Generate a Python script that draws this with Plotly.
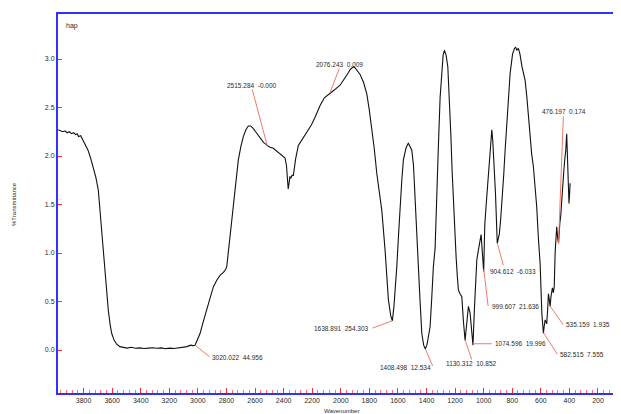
import numpy as np
import plotly.graph_objects as go

# ---- spectrum (10 points per row) ----
wavenumber = [
    3978, 3960, 3945, 3930, 3915, 3900, 3885, 3870, 3855, 3845,
    3835, 3820, 3806, 3786, 3769, 3751, 3732, 3714, 3697, 3685,
    3673, 3661, 3650, 3638, 3627, 3614, 3603, 3586, 3568, 3546,
    3522, 3496, 3466, 3436, 3406, 3376, 3346, 3316, 3286, 3256,
    3226, 3196, 3166, 3136, 3106, 3076, 3050, 3035, 3020, 3005,
    2985, 2961, 2938, 2916, 2892, 2868, 2845, 2821, 2806, 2798,
    2786, 2775, 2763, 2752, 2734, 2717, 2699, 2682, 2664, 2647,
    2631, 2616, 2596, 2565, 2541, 2515, 2496, 2472, 2448, 2425,
    2406, 2390, 2380, 2374, 2368, 2362, 2356, 2350, 2341, 2332,
    2316, 2297, 2266, 2238, 2206, 2180, 2145, 2115, 2076, 2046,
    2005, 1971, 1946, 1935, 1924, 1912, 1901, 1891, 1865, 1841,
    1818, 1801, 1783, 1766, 1748, 1730, 1713, 1690, 1667, 1650,
    1639, 1628, 1617, 1608, 1596, 1585, 1573, 1562, 1544, 1532,
    1527, 1520, 1511, 1503, 1491, 1480, 1468, 1457, 1445, 1433,
    1420, 1408, 1396, 1385, 1375, 1364, 1352, 1340, 1328, 1317,
    1305, 1293, 1284, 1275, 1263, 1251, 1240, 1230, 1221, 1212,
    1202, 1193, 1184, 1177, 1166, 1153, 1142, 1130, 1120, 1112,
    1107, 1095, 1085, 1075, 1064, 1054, 1048, 1037, 1026, 1018,
    1000, 992, 980, 967, 956, 947, 943, 936, 928, 917,
    905, 897, 890, 881, 873, 860, 850, 833, 815, 798,
    784, 776, 768, 757, 746, 733, 721, 710, 698, 687,
    675, 664, 652, 640, 629, 617, 605, 593, 582, 576,
    570, 564, 559, 553, 547, 541, 535, 529, 519, 512,
    506, 500, 489, 482, 476, 467, 461, 453, 447, 439,
    431, 426, 419, 412, 403, 399, 395,
]
transmittance = [
    2.27, 2.26, 2.25, 2.26, 2.24, 2.25, 2.23, 2.24, 2.22, 2.23,
    2.20, 2.21, 2.17, 2.12, 2.06, 1.98, 1.89, 1.78, 1.65, 1.44,
    1.20, 1.00, 0.79, 0.60, 0.41, 0.26, 0.17, 0.10, 0.06, 0.035,
    0.025, 0.02, 0.028, 0.018, 0.022, 0.015, 0.02, 0.024, 0.018, 0.022,
    0.014, 0.02, 0.016, 0.022, 0.025, 0.035, 0.05, 0.045, 0.05, 0.10,
    0.17, 0.30, 0.41, 0.53, 0.65, 0.72, 0.77, 0.80, 0.83, 0.86,
    1.02, 1.20, 1.36, 1.52, 1.78, 1.96, 2.10, 2.20, 2.27, 2.31,
    2.31, 2.29, 2.25, 2.19, 2.14, 2.11, 2.09, 2.08, 2.05, 2.02,
    2.00, 1.98, 1.90, 1.75, 1.66, 1.72, 1.79, 1.77, 1.80, 1.80,
    1.97, 2.11, 2.18, 2.24, 2.32, 2.40, 2.52, 2.60, 2.65, 2.68,
    2.73, 2.80, 2.86, 2.89, 2.91, 2.92, 2.91, 2.89, 2.84, 2.76,
    2.64, 2.48, 2.30, 2.08, 1.82, 1.62, 1.44, 1.03, 0.52, 0.35,
    0.30, 0.45, 0.66, 0.86, 1.18, 1.50, 1.75, 1.96, 2.08, 2.12,
    2.13, 2.11, 2.08, 2.06, 1.90, 1.60, 1.20, 0.86, 0.50, 0.17,
    0.05, 0.01, 0.06, 0.14, 0.24, 0.52, 0.86, 1.05, 1.50, 2.10,
    2.60, 2.92, 3.04, 3.09, 3.04, 2.92, 2.60, 2.23, 1.85, 1.50,
    1.20, 0.96, 0.75, 0.62, 0.58, 0.55, 0.30, 0.10, 0.25, 0.42,
    0.45, 0.38, 0.20, 0.05, 0.45, 0.86, 0.93, 1.03, 1.15, 1.19,
    0.81, 1.30, 1.55, 1.82, 2.10, 2.26, 2.27, 2.15, 1.95, 1.60,
    1.10, 1.15, 1.20, 1.35, 1.50, 1.80, 2.06, 2.45, 2.85, 3.05,
    3.11, 3.12, 3.09, 3.11, 3.05, 2.93, 2.85, 2.78, 2.61, 2.42,
    2.16, 2.02, 1.89, 1.70, 1.48, 1.15, 0.89, 0.38, 0.17, 0.25,
    0.31, 0.29, 0.27, 0.40, 0.58, 0.52, 0.45, 0.55, 0.64, 0.59,
    0.66, 1.00, 1.27, 1.15, 1.10, 1.31, 1.38, 1.55, 1.72, 1.85,
    1.99, 2.05, 2.23, 1.92, 1.51, 1.60, 1.72,
]
assert len(wavenumber) == len(transmittance)

# ---- peak labels ----
peak_wavenumber = [3020.022, 2515.284, 2076.243, 1638.891, 1408.498, 1130.312,
                   1074.596, 999.607, 904.612, 476.197, 535.159, 582.515]
peak_label = ["3020.022  44.956", "2515.284  -0.000", "2076.243  0.009",
              "1638.891  254.303", "1408.498  12.534", "1130.312  10.852",
              "1074.596  19.996", "999.607  21.636", "904.612  -6.033",
              "476.197  0.174", "535.159  1.935", "582.515  7.555"]

x_ticks = list(range(3800, 199, -200))
y_ticks = [0.0, 0.5, 1.0, 1.5, 2.0, 2.5, 3.0]

# ---- label placement: pixel offsets from the peak point (screen y down) ----
# (leader dx, leader dy, text dx, text dy, xanchor)
label_layout = [
    (14.5, 11.5, 15, 12.1, "left"),
    (-15, -56, -14.7, -59.6, "center"),
    (9.4, -24.4, 9.5, -28.6, "center"),
    (-20, 7.4, -21, 8.1, "right"),
    (7.3, 17, 8, 18.3, "right"),
    (6.7, 19.7, 6.2, 23.7, "center"),
    (18.7, 0, 19.5, 0.1, "left"),
    (4.4, 36.9, 6.7, 37.6, "left"),
    (6, 22, 15.6, 28.4, "center"),
    (4.8, -126.6, 5, -131.6, "center"),
    (13.2, 18.6, 13.5, 18.6, "left"),
    (14, 21.5, 14.5, 21.5, "left"),
]

FONT = "Liberation Sans, Arial, sans-serif"
BLUE = "#3030ff"
RED = "#ff2a2a"
LEADER = "#f07a6a"
TXT = "#2a2a2a"

fig = go.Figure()
fig.add_trace(go.Scatter(x=wavenumber, y=transmittance, mode="lines",
                         line=dict(color="#111111", width=1.1), hoverinfo="skip",
                         showlegend=False))

wn_arr = np.array(wavenumber, dtype=float)[::-1]
tr_arr = np.array(transmittance, dtype=float)[::-1]
annotations = []
shapes = []
for w, txt, (ldx, ldy, tdx, tdy, xa) in zip(peak_wavenumber, peak_label, label_layout):
    v = float(np.interp(w, wn_arr, tr_arr))
    shapes.append(dict(type="line", xref="x", yref="y", xsizemode="pixel", ysizemode="pixel",
                       xanchor=w, yanchor=v, x0=0, y0=0, x1=ldx, y1=-ldy,
                       line=dict(color=LEADER, width=1)))
    annotations.append(dict(x=w, y=v, xref="x", yref="y", text=txt.replace(" ", "\u00a0"),
                            showarrow=False, xshift=tdx, yshift=-tdy, xanchor=xa,
                            yanchor="middle", font=dict(family=FONT, size=6.5, color=TXT)))

annotations.append(dict(x=0.0107, y=0.968, xref="paper", yref="paper", text="hap",
                        showarrow=False, xanchor="left", yanchor="middle",
                        font=dict(family=FONT, size=7, color=TXT)))
annotations.append(dict(x=-0.0782, y=0.4987, xref="paper", yref="paper", text="%Transmittance",
                        showarrow=False, textangle=-90, xanchor="center", yanchor="middle",
                        font=dict(family=FONT, size=6, color=TXT)))
annotations.append(dict(x=0.5027, y=-0.048, xref="paper", yref="paper", text="Wavenumber",
                        showarrow=False, xanchor="center", yanchor="middle",
                        font=dict(family=FONT, size=6, color=TXT)))

fig.update_layout(
    width=613, height=406,
    margin=dict(l=50, r=0, t=6, b=21, pad=0, autoexpand=False),
    paper_bgcolor="white", plot_bgcolor="white",
    annotations=annotations, shapes=shapes,
    xaxis=dict(range=[3979, 39], tickvals=x_ticks, ticktext=[str(t) for t in x_ticks],
               ticks="inside", ticklen=5, tickcolor=RED, tickwidth=1,
               minor=dict(dtick=40, tick0=0, ticks="inside", ticklen=3, tickcolor="#ff7070",
                          tickwidth=1),
               showline=True, linecolor=BLUE, linewidth=2, mirror=True,
               showgrid=False, zeroline=False, automargin=False,
               tickfont=dict(family=FONT, size=7, color=TXT)),
    yaxis=dict(range=[-0.443, 3.464], tickvals=y_ticks, ticktext=[f"{t:.1f}" for t in y_ticks],
               ticks="inside", ticklen=4, tickcolor=RED, tickwidth=1,
               showline=True, linecolor=BLUE, linewidth=2, mirror=False,
               showgrid=False, zeroline=False, automargin=False,
               tickfont=dict(family=FONT, size=7, color=TXT)),
)

fig.write_html("out.html")
